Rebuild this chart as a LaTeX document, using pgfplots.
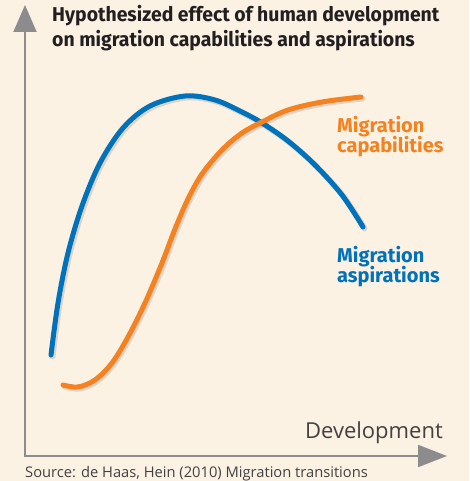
\documentclass[border=0pt]{standalone}
\usepackage{pgfplots}
\pgfplotsset{compat=1.18}
\usetikzlibrary{arrows.meta}
\usepackage{fontspec}
\setmainfont{Open Sans}
\newfontfamily\titlefont[FakeStretch=0.97]{Fira Sans}
\newfontfamily\labfont{Fira Sans}
\definecolor{bg}{HTML}{FBF2E4}
\definecolor{cblue}{HTML}{0072BC}
\definecolor{corange}{HTML}{F58220}
\definecolor{axgray}{HTML}{8C8C8F}
\definecolor{txt}{HTML}{231F20}
\begin{document}
\begin{tikzpicture}
\fill[bg] (0,0) rectangle (469pt,481pt);
\begin{axis}[scale only axis, width=469pt, height=481pt,
  xmin=0, xmax=469, ymin=0, ymax=481, hide axis, clip=false]
% axes arrows
\draw[axgray, line width=2pt, -{Triangle[length=27pt,width=23pt]}] (axis cs:25,25) -- (axis cs:25,476);
\draw[axgray, line width=2pt, -{Triangle[length=29pt,width=22pt]}] (axis cs:24,25) -- (axis cs:447,25);
% shadows
\addplot[black, opacity=0.12, line width=6pt, line cap=round, smooth, tension=0.55, transform canvas={xshift=1.5pt,yshift=-1.5pt}] coordinates {
(51,126)(58,178)(68,228)(82,275)(100,318)(123,353)(150,375)(185,385)(215,381)(242,369)(262,358)(288,340)(315,316)(342,286)(363,254)};
\addplot[black, opacity=0.12, line width=6pt, line cap=round, smooth, tension=0.55, transform canvas={xshift=1.5pt,yshift=-1.5pt}] coordinates {
(63,96)(78,94)(95,101)(112,118)(128,144)(145,178)(162,218)(175,252)(188,282)(202,307)(222,331)(242,348)(262,359)(288,371)(322,379)(361,384)};
% curves
\addplot[cblue, line width=5pt, line cap=round, smooth, tension=0.55] coordinates {
(51,126)(58,178)(68,228)(82,275)(100,318)(123,353)(150,375)(185,385)(215,381)(242,369)(262,358)(288,340)(315,316)(342,286)(363,254)};
\addplot[corange, line width=5pt, line cap=round, smooth, tension=0.55] coordinates {
(63,96)(78,94)(95,101)(112,118)(128,144)(145,178)(162,218)(175,252)(188,282)(202,307)(222,331)(242,348)(262,359)(288,371)(322,379)(361,384)};
% texts
\node[anchor=base west, inner sep=0pt, text=txt] at (axis cs:52,459) {\titlefont\bfseries\fontsize{20}{24}\selectfont Hypothesized effect of human development};
\node[anchor=base west, inner sep=0pt, text=txt] at (axis cs:52,434) {\titlefont\bfseries\fontsize{20}{24}\selectfont on migration capabilities and aspirations};
\node[anchor=base west, inner sep=0pt, text=corange] at (axis cs:337,348) {\labfont\bfseries\fontsize{20}{24}\selectfont Migration};
\node[anchor=base west, inner sep=0pt, text=corange] at (axis cs:337,328) {\labfont\bfseries\fontsize{20}{24}\selectfont capabilities};
\node[anchor=base west, inner sep=0pt, text=cblue] at (axis cs:337,218) {\labfont\bfseries\fontsize{20}{24}\selectfont Migration};
\node[anchor=base west, inner sep=0pt, text=cblue] at (axis cs:337,198) {\labfont\bfseries\fontsize{20}{24}\selectfont aspirations};
\node[anchor=base east, inner sep=0pt, text=txt!85] at (axis cs:443,42) {\fontsize{22}{26}\selectfont Development};
\node[anchor=base west, inner sep=0pt, text=txt!85] at (axis cs:25,4) {\fontsize{14.7}{17}\selectfont Source: de Haas, Hein (2010) Migration transitions};
\end{axis}
\end{tikzpicture}
\end{document}
